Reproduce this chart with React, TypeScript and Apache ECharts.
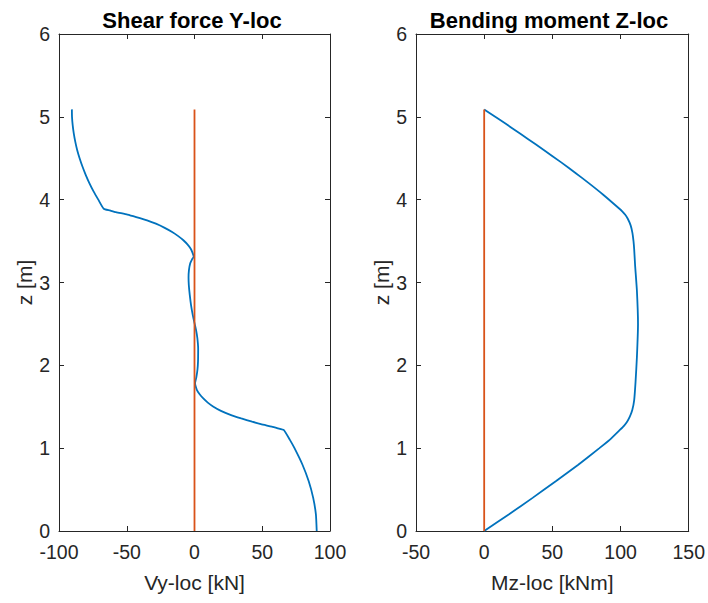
import React, { useEffect, useRef } from "react";
import * as echarts from "echarts";

// Height along the beam [m] and local shear force [kN]
const shearZ = [
  0, 0.2, 0.4, 0.6, 0.8, 1.0, 1.1, 1.22, 1.24, 1.26, 1.29, 1.32, 1.36, 1.4, 1.45, 1.5,
  1.55, 1.6, 1.65, 1.7, 1.75, 1.78, 1.86, 1.95, 2.05, 2.2, 2.33, 2.43, 2.51, 2.6, 2.72,
  2.85, 2.97, 3.06, 3.15, 3.23, 3.28, 3.31, 3.36, 3.41, 3.46, 3.51, 3.56, 3.61, 3.66,
  3.71, 3.75, 3.79, 3.82, 3.85, 3.87, 3.89, 4.0, 4.1, 4.2, 4.3, 4.4, 4.5, 4.6, 4.7, 4.8,
  4.9, 5.0, 5.09,
];
const shearVy = [
  90.2, 89.6, 87.6, 84.3, 79.7, 73.8, 70.4, 65.8, 61.5, 57.0, 49.0, 42.5, 34.5, 27.0,
  19.5, 14.0, 9.8, 6.5, 3.8, 1.8, 0.8, 0.4, 1.4, 2.2, 2.6, 2.7, 2.1, 1.1, 0.0, -1.2,
  -2.5, -3.5, -4.2, -4.4, -4.1, -3.2, -1.8, -0.6, -1.5, -2.9, -5.2, -8.2, -12.0, -16.5,
  -22.0, -28.5, -35.0, -43.0, -49.5, -58.0, -62.5, -67.0, -71.0, -74.5, -77.6, -80.3,
  -82.7, -84.8, -86.6, -88.0, -89.1, -89.9, -90.4, -90.5,
];

// Height along the beam [m] and local bending moment [kNm]
const momentZ = [
  0, 0.2, 0.4, 0.6, 0.8, 1.0, 1.1, 1.22, 1.27, 1.32, 1.38, 1.46, 1.58, 1.8, 2.1, 2.5,
  2.9, 3.2, 3.4, 3.5, 3.6, 3.69, 3.77, 3.82, 3.855, 3.89, 4.06, 4.2, 4.32, 4.45, 4.6,
  4.73, 4.86, 4.97, 5.09,
];
const momentMz = [
  0, 18, 35.5, 52.5, 69, 84.5, 92, 99.5, 102.5, 104.8, 106.8, 108.6, 110.0, 111.0,
  112.0, 112.8, 112.0, 110.7, 110.0, 109.5, 108.7, 107.4, 105.3, 103.3, 101.4, 99.2,
  87.3, 76.7, 67.2, 56.5, 43.7, 32.3, 20.8, 10.9, 0,
];

// Undeformed beam axis
const beamZ = [0, 5.09];
const beamValue = [0, 0];

const zTicks = { min: 0, max: 6, interval: 1 };
const shearTicks = { min: -100, max: 100, interval: 50 };
const momentTicks = { min: -50, max: 150, interval: 50 };

const BLUE = "#0072BD";
const ORANGE = "#D95319";
const AXIS = "#262626";
const FONT = "Liberation Sans";

const pairs = (xs: number[], zs: number[]) => xs.map((x, i) => [x, zs[i]]);

export default function App() {
  const ref = useRef<HTMLDivElement>(null);

  useEffect(() => {
    const chart = echarts.init(ref.current!, null, { renderer: "svg" });

    const line = { onZero: false, lineStyle: { color: AXIS, width: 1 } };
    const tick = { show: true, inside: true, length: 5, lineStyle: { color: AXIS, width: 1 } };
    const label = { color: AXIS, fontSize: 19.5, fontFamily: FONT };
    const nameStyle = { color: AXIS, fontSize: 21, fontFamily: FONT };
    const titleStyle = { color: "#000", fontSize: 22, fontWeight: "bold", fontFamily: FONT };

    const xAxisPair = (grid: number, ticks: any, name: string) => [
      {
        type: "value",
        gridIndex: grid,
        position: "bottom",
        ...ticks,
        axisLine: line,
        axisTick: tick,
        axisLabel: { ...label, margin: 11 },
        splitLine: { show: false },
        name,
        nameLocation: "middle",
        nameGap: 41,
        nameTextStyle: nameStyle,
      },
      {
        type: "value",
        gridIndex: grid,
        position: "top",
        ...ticks,
        axisLine: line,
        axisTick: tick,
        axisLabel: { show: false },
        splitLine: { show: false },
      },
    ];
    const yAxisPair = (grid: number) => [
      {
        type: "value",
        gridIndex: grid,
        position: "left",
        ...zTicks,
        axisLine: line,
        axisTick: tick,
        axisLabel: { ...label, margin: 9 },
        splitLine: { show: false },
        name: "z [m]",
        nameLocation: "middle",
        nameGap: 19,
        nameTextStyle: nameStyle,
      },
      {
        type: "value",
        gridIndex: grid,
        position: "right",
        ...zTicks,
        axisLine: line,
        axisTick: tick,
        axisLabel: { show: false },
        splitLine: { show: false },
      },
    ];

    const lineSeries = (
      xAxisIndex: number,
      yAxisIndex: number,
      data: number[][],
      color: string,
      smooth: number
    ) => ({
      type: "line",
      xAxisIndex,
      yAxisIndex,
      data,
      smooth,
      showSymbol: false,
      symbol: "none",
      lineStyle: { color, width: 1.8 },
      silent: true,
    });

    chart.setOption({
      animation: false,
      backgroundColor: "#ffffff",
      title: [
        { text: "Shear force Y-loc", left: 187, top: 4, textAlign: "center", textStyle: titleStyle },
        { text: "Bending moment Z-loc", left: 544, top: 4, textAlign: "center", textStyle: titleStyle },
      ],
      grid: [
        { left: 59, top: 34, width: 271, height: 497 },
        { left: 416, top: 34, width: 273, height: 497 },
      ],
      xAxis: [...xAxisPair(0, shearTicks, "Vy-loc [kN]"), ...xAxisPair(1, momentTicks, "Mz-loc [kNm]")],
      yAxis: [...yAxisPair(0), ...yAxisPair(1)],
      series: [
        lineSeries(0, 0, pairs(shearVy, shearZ), BLUE, 0.15),
        lineSeries(0, 0, pairs(beamValue, beamZ), ORANGE, 0),
        lineSeries(2, 2, pairs(momentMz, momentZ), BLUE, 0.15),
        lineSeries(2, 2, pairs(beamValue, beamZ), ORANGE, 0),
      ],
    });

    return () => chart.dispose();
  }, []);

  return (
    <div
      ref={ref}
      style={{ position: "fixed", left: 0, top: 0, width: 708, height: 603, background: "#fff" }}
    />
  );
}
